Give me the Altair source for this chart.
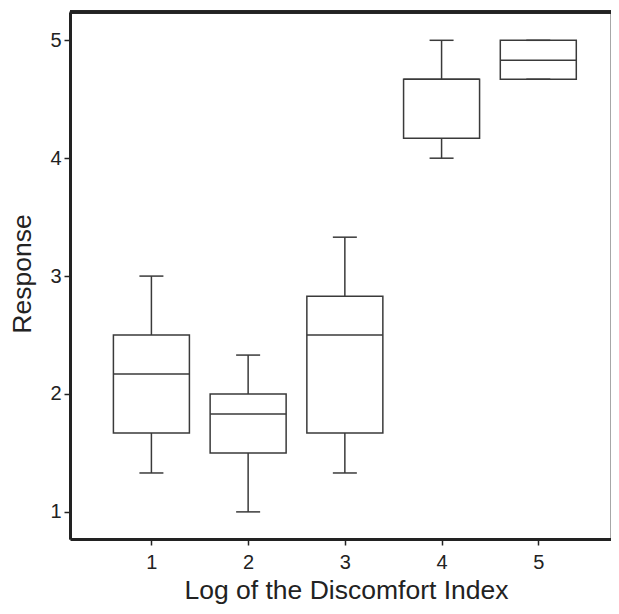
import altair as alt
import pandas as pd

# Box-plot summary values
levels = [1, 2, 3, 4, 5]
whisker_low = [1.33, 1.00, 1.33, 4.00, 4.67]
q1 = [1.67, 1.50, 1.67, 4.17, 4.67]
median = [2.17, 1.83, 2.50, 4.67, 4.83]
q3 = [2.50, 2.00, 2.83, 4.67, 5.00]
whisker_high = [3.00, 2.33, 3.33, 5.00, 5.00]
y_ticks = [1, 2, 3, 4, 5]

df = pd.DataFrame(dict(level=levels, lo=whisker_low, q1=q1, med=median,
                       q3=q3, hi=whisker_high))

W, H = 541, 527
C = "#3a3a3a"
FONT = "Liberation Sans"

x_enc = alt.X(
    "level:Q",
    scale=alt.Scale(domain=[0.21, 5.70], nice=False, zero=False),
    axis=alt.Axis(values=levels, title="Log of the Discomfort Index",
                  labelPadding=7, titleX=276, titleY=59,
                  titleBaseline="alphabetic"),
)
y_scale = alt.Scale(domain=[0.77, 5.24], nice=False, zero=False)
y_axis = alt.Axis(values=y_ticks, title="Response", labelPadding=3,
                  titleAngle=270, titleX=-40, titleY=H / 2 - 2,
                  titleAlign="center", titleBaseline="alphabetic")

base = alt.Chart(df)

whisk = base.mark_rule(color=C, strokeWidth=1.5).encode(
    x=x_enc,
    y=alt.Y("lo:Q", scale=y_scale, axis=y_axis),
    y2="hi:Q",
)
box = base.mark_bar(size=76, fill="white", stroke=C, strokeWidth=1.5).encode(
    x=x_enc,
    y=alt.Y("q1:Q", scale=y_scale, axis=y_axis),
    y2="q3:Q",
)
med = base.mark_tick(orient="horizontal", size=76, thickness=1.5, color=C,
                     opacity=1).encode(
    x=x_enc, y=alt.Y("med:Q", scale=y_scale, axis=y_axis))
cap_lo = base.mark_tick(orient="horizontal", size=24, thickness=1.5, color=C,
                        opacity=1).encode(
    x=x_enc, y=alt.Y("lo:Q", scale=y_scale, axis=y_axis))
cap_hi = base.mark_tick(orient="horizontal", size=24, thickness=1.5, color=C,
                        opacity=1).encode(
    x=x_enc, y=alt.Y("hi:Q", scale=y_scale, axis=y_axis))
top_border = base.mark_rule(color="#222", strokeWidth=3).encode(
    x=alt.value(0), x2=alt.value(W), y=alt.value(0))

chart = alt.layer(whisk, box, med, cap_lo, cap_hi, top_border).properties(
    width=W, height=H,
    autosize=alt.AutoSizeParams(type="none"),
    padding={"left": 62, "top": 4, "right": 0, "bottom": 67},
).configure_view(
    stroke="#8a8a8a", strokeWidth=1.5
).configure_axis(
    grid=False,
    domainColor="#222", domainWidth=3,
    tickColor="#222", tickWidth=1.5, tickSize=6,
    labelFont=FONT, labelFontSize=20, labelColor="#222",
    titleFont=FONT, titleFontSize=26.5, titleFontWeight="normal",
    titleColor="#222",
)

chart.save("out.html", embed_options={"renderer": "svg", "actions": False})
